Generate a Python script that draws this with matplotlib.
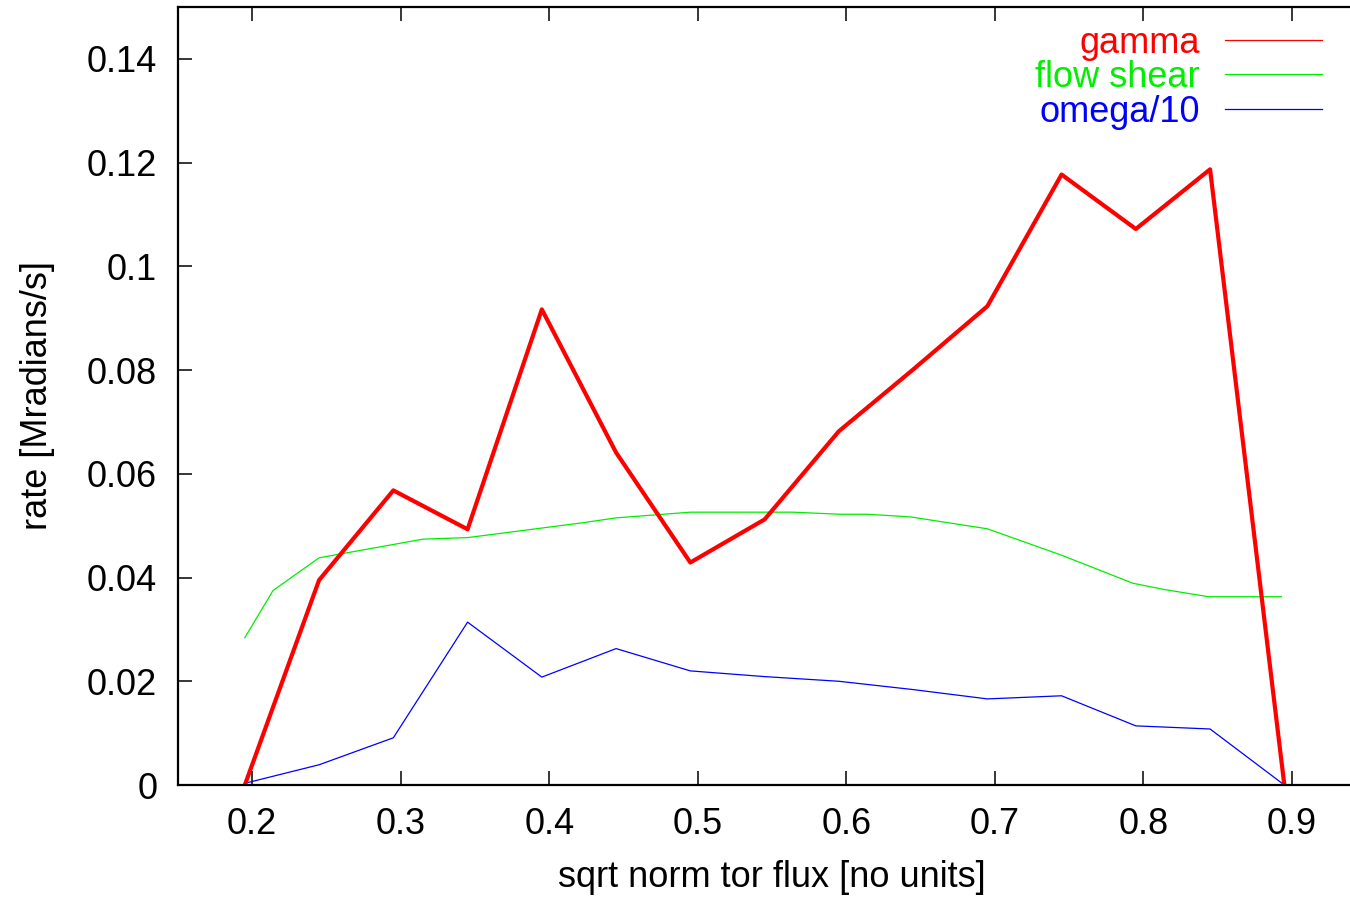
import matplotlib.pyplot as plt
from matplotlib.ticker import FuncFormatter

plt.rcParams['font.family'] = ['Liberation Sans', 'DejaVu Sans']

# gamma (thick red)
x_gamma = [0.195, 0.245, 0.295, 0.345, 0.395, 0.445, 0.495, 0.545, 0.595,
           0.645, 0.695, 0.745, 0.795, 0.845, 0.895]
gamma = [0.0, 0.0395, 0.0568, 0.0493, 0.0917, 0.0641, 0.0429, 0.0512, 0.0682,
         0.0801, 0.0923, 0.1177, 0.1072, 0.1187, 0.0]

# flow shear (thin green)
x_shear = [0.195, 0.214, 0.245, 0.315, 0.345, 0.421, 0.445, 0.495, 0.556,
           0.564, 0.596, 0.614, 0.643, 0.695, 0.745, 0.793, 0.814, 0.844, 0.893]
shear = [0.0284, 0.0375, 0.0438, 0.0474, 0.0477, 0.0505, 0.0515, 0.0526, 0.0526,
         0.0526, 0.0522, 0.0522, 0.0517, 0.0494, 0.0443, 0.0389, 0.0377, 0.0363, 0.0363]

# omega/10 (thin blue)
x_omega = [0.196, 0.245, 0.295, 0.345, 0.395, 0.445, 0.495, 0.545, 0.595,
           0.645, 0.695, 0.745, 0.795, 0.845, 0.895]
omega = [0.0004, 0.0039, 0.0091, 0.0314, 0.0208, 0.0263, 0.0220, 0.0209, 0.0200,
         0.0184, 0.0166, 0.0172, 0.0114, 0.0108, 0.0]

labels = ['gamma', 'flow shear', 'omega/10']
colors = ['#ff0000', '#00ee00', '#0000ff']

fig = plt.figure(figsize=(13.5, 8.97), dpi=100)
# axes runs past the right edge of the figure, like the original crop
ax = fig.add_axes([178 / 1350, 112 / 897, 1188 / 1350, 778 / 897])

ax.plot(x_omega, omega, color=colors[2], lw=0.9)
ax.plot(x_shear, shear, color=colors[1], lw=0.9)
ax.plot(x_gamma, gamma, color=colors[0], lw=3.0)

ax.set_xlim(0.15, 0.95)
ax.set_ylim(0, 0.15)
ax.set_xticks([0.2, 0.3, 0.4, 0.5, 0.6, 0.7, 0.8, 0.9])
ax.set_yticks([0, 0.02, 0.04, 0.06, 0.08, 0.1, 0.12, 0.14])
ax.yaxis.set_major_formatter(FuncFormatter(lambda v, p: '%g' % round(v, 4)))
ax.xaxis.set_major_formatter(FuncFormatter(lambda v, p: '%g' % round(v, 4)))

ax.tick_params(direction='in', length=10, width=1.1, labelsize=26,
               top=True, right=True)
ax.tick_params(axis='y', pad=15)
ax.tick_params(axis='x', pad=16)
for s in ax.spines.values():
    s.set_linewidth(1.6)

ax.set_xlabel('sqrt norm tor flux [no units]', fontsize=26, labelpad=13)
ax.set_ylabel('rate [Mradians/s]', fontsize=26, labelpad=23)

# gnuplot-style key: text right-aligned, sample line to the right
rows = [0.9535, 0.9098, 0.8648]
for lab, c, yy in zip(labels, colors, rows):
    ax.text(0.860, yy, lab, color=c, fontsize=26, ha='right', va='center',
            transform=ax.transAxes)
    ax.plot([0.881, 0.963], [yy + 0.004, yy + 0.004], color=c, lw=0.9,
            transform=ax.transAxes, clip_on=False)

fig.savefig('out.png', dpi=100)
